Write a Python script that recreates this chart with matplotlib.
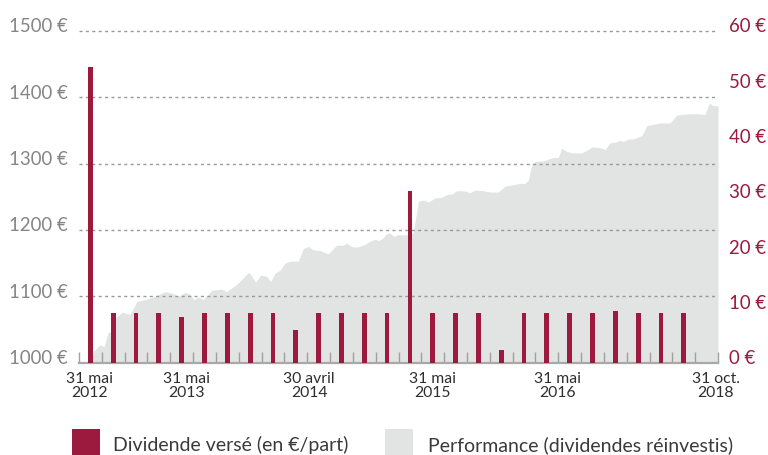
import matplotlib
matplotlib.use("Agg")
import matplotlib.pyplot as plt
from matplotlib.patches import Rectangle
from matplotlib.transforms import ScaledTranslation

plt.rcParams['font.family'] = ['Lato', 'DejaVu Sans']

# ---- data ----
# quarterly dividend paid (EUR/part), one per quarter category
dividends = [53.5, 9.0, 9.0, 9.0, 8.2, 9.0, 9.0, 9.0, 9.0, 6.0, 9.0, 9.0, 9.0, 9.0,
             31.0, 9.0, 9.0, 9.0, 2.3, 9.0, 9.0, 9.0, 9.0, 9.4, 9.0, 9.0, 9.0]

# performance (dividends reinvested), position in quarter units and value in EUR
perf_x = [0.39, 0.61, 0.92, 1.10, 1.27, 1.40, 1.62, 1.88, 2.23, 2.38, 2.53, 2.89, 3.33, 3.77,
          4.06, 4.35, 4.65, 4.87, 5.04, 5.23, 5.45, 5.82, 6.25, 6.47, 6.98, 7.42, 7.54, 7.74,
          7.96, 8.23, 8.39, 8.59, 8.81, 9.03, 9.25, 9.61, 9.83, 10.05, 10.27, 10.56, 10.92,
          11.29, 11.58, 11.73, 11.95, 12.17, 12.46, 12.75, 12.97, 13.12, 13.26, 13.48, 13.63,
          13.80, 13.99, 14.21, 14.64, 14.87, 15.09, 15.31, 15.60, 15.89, 16.11, 16.33, 16.55,
          16.84, 17.13, 17.35, 17.72, 18.01, 18.37, 18.67, 19.03, 19.33, 19.54, 19.69, 19.84,
          19.98, 20.35, 20.78, 21.00, 21.15, 21.37, 21.66, 22.03, 22.32, 22.47, 22.83, 23.05,
          23.27, 23.49, 23.71, 23.85, 24.07, 24.29, 24.66, 24.88, 25.17, 25.46, 25.90, 26.19,
          26.41, 26.78, 27.07, 27.43, 27.62, 27.80, 28.00]
perf_v = [1000, 1016, 1027, 1024, 1045, 1047, 1068, 1076, 1073, 1082, 1092, 1095, 1100, 1107,
          1105, 1100, 1106, 1103, 1095, 1099, 1095, 1109, 1111, 1107, 1120, 1136, 1132, 1121,
          1132, 1130, 1122, 1135, 1139, 1150, 1153, 1153, 1172, 1175, 1170, 1169, 1164,
          1177, 1177, 1180, 1175, 1174, 1177, 1183, 1186, 1184, 1186, 1194, 1195,
          1190, 1193, 1192, 1195, 1243, 1245, 1242, 1248, 1249, 1253, 1254, 1259,
          1259, 1256, 1260, 1259, 1257, 1257, 1266, 1268, 1270, 1270, 1275, 1298,
          1303, 1304, 1309, 1309, 1323, 1318, 1316, 1316, 1321, 1325, 1324, 1321,
          1331, 1332, 1335, 1333, 1337, 1337, 1342, 1357, 1359, 1361, 1361, 1373,
          1374, 1375, 1375, 1374, 1391, 1387, 1387]

xlabel_pos = [0.48, 4.73, 10.08, 15.51, 20.95, 27.91]
xlabels = ["31 mai\n2012", "31 mai\n2013", "30 avril\n2014", "31 mai\n2015",
           "31 mai\n2016", "31 oct.\n2018"]
left_ticks = [1000, 1100, 1200, 1300, 1400, 1500]
left_labels = ["1000 €", "1100 €", "1200 €", "1300 €", "1400 €", "1500 €"]
right_ticks = [0, 10, 20, 30, 40, 50, 60]
right_labels = ["0 €", "10 €", "20 €", "30 €", "40 €", "50 €", "60 €"]

n_quarters = 28
legend_labels = ["Dividende versé (en €/part)", "Performance (dividendes réinvestis)"]

# ---- style ----
W, H = 768, 455
RED = '#9b1a3e'
AREA = '#e2e3e3'
GRID = '#9a9a9a'

fig = plt.figure(figsize=(W / 100, H / 100), dpi=100)
x0, x1, ybot, ytop = 79, 718, 362.7, 22
ax = fig.add_axes([x0 / W, (H - ybot) / H, (x1 - x0) / W, (ybot - ytop) / H])
px_per_unit = 332 / 500
ymax = 1000 + (ybot - ytop) / px_per_unit
ax.set_xlim(0, n_quarters)
ax.set_ylim(1000, ymax)

ax.fill_between(perf_x, 1000, perf_v, color=AREA, lw=0, zorder=1)

ax.set_axisbelow(False)
ax.grid(axis='y', color=GRID, linestyle=(0, (2.2, 2.4)), lw=1.0, zorder=2)
ax.grid(axis='x', visible=False)

for s in ['top', 'left', 'right']:
    ax.spines[s].set_visible(False)
ax.spines['bottom'].set_color('#a8a8a8')
ax.spines['bottom'].set_linewidth(1.6)
ax.spines['bottom'].set_zorder(5)

ax.set_yticks(left_ticks)
ax.set_yticklabels(left_labels)
ax.tick_params(axis='y', length=0, pad=8, labelsize=13.4, labelcolor='#858585')

ax.set_xticks(range(n_quarters + 1), minor=True)
ax.tick_params(axis='x', which='minor', direction='in', length=8, width=1, color='#a0a0a0')
ax.set_xticks(xlabel_pos)
ax.set_xticklabels(xlabels, linespacing=1.0)
ax.tick_params(axis='x', which='major', length=0, pad=7, labelsize=11.3, labelcolor='#2e2e2e')

ax2 = ax.twinx()
ax2.set_ylim(0, 60 * (ymax - 1000) / 500)
bar_x = [i + 0.5 for i in range(len(dividends))]
ax2.bar(bar_x, dividends, width=0.21, color=RED, zorder=3)
for s in ax2.spines.values():
    s.set_visible(False)
ax2.set_yticks(right_ticks)
ax2.set_yticklabels(right_labels)
ax2.tick_params(axis='y', length=0, pad=8, labelsize=13.4, labelcolor=RED)

off = ScaledTranslation(0, 5.5 / 100, fig.dpi_scale_trans)
for lab in ax.get_yticklabels() + ax2.get_yticklabels():
    lab.set_transform(lab.get_transform() + off)

# legend
fig.add_artist(Rectangle((72 / W, 0), 28 / W, 26 / H, transform=fig.transFigure,
                         color=RED, lw=0))
fig.add_artist(Rectangle((385 / W, 0), 28 / W, 26 / H, transform=fig.transFigure,
                         color=AREA, lw=0))
fig.text(113 / W, 1 - 445 / H, legend_labels[0], fontsize=14, color='#3a3a3a', va='center')
fig.text(428 / W, 1 - 445 / H, legend_labels[1], fontsize=14, color='#3a3a3a', va='center')

fig.savefig('out.png', dpi=100)
